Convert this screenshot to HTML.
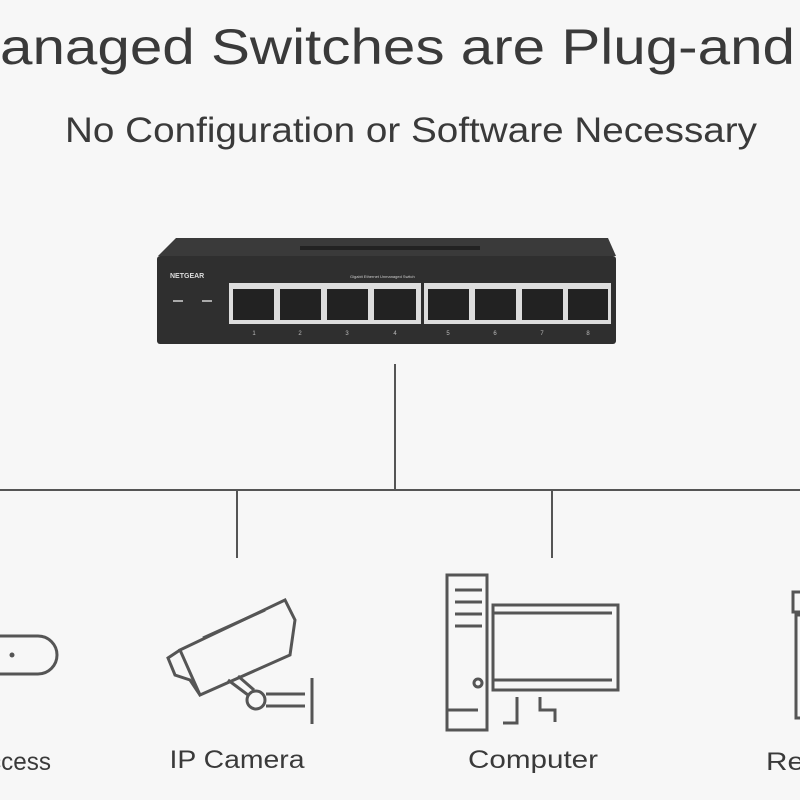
<!DOCTYPE html>
<html><head><meta charset="utf-8"><style>
html,body{margin:0;padding:0;background:#f7f7f7;}
svg{display:block;font-family:"Liberation Sans",sans-serif;}
</style></head><body>
<svg width="800" height="800" viewBox="0 0 800 800" xmlns="http://www.w3.org/2000/svg">
<rect width="800" height="800" fill="#f7f7f7"/>
<text x="0" y="64" font-size="50" fill="#3a3a3a" textLength="795" lengthAdjust="spacingAndGlyphs">anaged Switches are Plug-and</text>
<text x="65" y="142" font-size="35" fill="#3a3a3a" textLength="692" lengthAdjust="spacingAndGlyphs">No Configuration or Software Necessary</text>

<!-- switch -->
<polygon points="176,238 608,238 616,256 158,256" fill="#3a3a3a"/>
<rect x="300" y="246" width="180" height="4" fill="#222"/>
<rect x="157" y="256" width="459" height="88" rx="3" fill="#2f2f2f"/>
<text x="170" y="278" font-size="7" fill="#ddd" font-weight="bold">NETGEAR</text>
<text x="350" y="278" font-size="4" fill="#ccc">Gigabit Ethernet Unmanaged Switch</text>
<rect x="173" y="300" width="10" height="2" fill="#aaa"/><rect x="202" y="300" width="10" height="2" fill="#aaa"/>
<rect x="229" y="283" width="192" height="41" fill="#ddd"/>
<rect x="424" y="283" width="187" height="41" fill="#ddd"/>
<g fill="#222">
<rect x="233" y="289" width="41" height="31"/><rect x="280" y="289" width="41" height="31"/>
<rect x="327" y="289" width="41" height="31"/><rect x="374" y="289" width="42" height="31"/>
<rect x="428" y="289" width="41" height="31"/><rect x="475" y="289" width="41" height="31"/>
<rect x="522" y="289" width="41" height="31"/><rect x="568" y="289" width="40" height="31"/>
</g>
<g fill="#bbb" font-size="6" text-anchor="middle">
<text x="254" y="335">1</text><text x="300" y="335">2</text><text x="347" y="335">3</text><text x="395" y="335">4</text>
<text x="448" y="335">5</text><text x="495" y="335">6</text><text x="542" y="335">7</text><text x="588" y="335">8</text>
</g>

<!-- connectors -->
<g stroke="#555" stroke-width="2" fill="none">
<line x1="395" y1="364" x2="395" y2="490"/>
<line x1="0" y1="490" x2="800" y2="490"/>
<line x1="237" y1="490" x2="237" y2="558"/>
<line x1="552" y1="490" x2="552" y2="558"/>
</g>

<!-- icons -->
<g stroke="#555" stroke-width="3" fill="none">
<path d="M0,636 H38 A17,17 0 0 1 38,674 H0"/>
<polygon points="180,650 285,600 295,620 290,655 200,695"/>
<line x1="203" y1="638" x2="265" y2="610"/>
<path d="M180,650 L168,658 L175,675 L190,680 L200,695"/>
<line x1="228" y1="680" x2="248" y2="695"/>
<line x1="238" y1="676" x2="254" y2="690"/>
<circle cx="256" cy="700" r="9"/>
<line x1="266" y1="694" x2="305" y2="694"/><line x1="266" y1="706" x2="305" y2="706"/>
<line x1="312" y1="678" x2="312" y2="724"/>
<rect x="447" y="575" width="40" height="155"/>
<line x1="455" y1="590" x2="482" y2="590"/><line x1="455" y1="602" x2="482" y2="602"/>
<line x1="455" y1="614" x2="482" y2="614"/><line x1="455" y1="626" x2="482" y2="626"/>
<circle cx="478" cy="683" r="4"/>
<line x1="447" y1="710" x2="478" y2="710"/>
<rect x="493" y="605" width="125" height="85"/>
<line x1="493" y1="613" x2="612" y2="613"/>
<line x1="493" y1="680" x2="612" y2="680"/>
<path d="M503,723 H517 V697"/><path d="M540,697 V710 H555 V722"/>
<path d="M800,592 H793 V612 H800 M800,615 H796 V718 H800"/>
</g>
<circle cx="12" cy="655" r="2.5" fill="#555"/>

<g fill="#3a3a3a" font-size="25" text-anchor="middle">
<text x="20" y="770" textLength="62" lengthAdjust="spacingAndGlyphs">ccess</text>
<text x="237" y="768" textLength="135" lengthAdjust="spacingAndGlyphs">IP Camera</text>
<text x="533" y="768" textLength="130" lengthAdjust="spacingAndGlyphs">Computer</text>
<text x="785" y="770" textLength="38" lengthAdjust="spacingAndGlyphs">Re</text>
</g>
</svg>
</body></html>
